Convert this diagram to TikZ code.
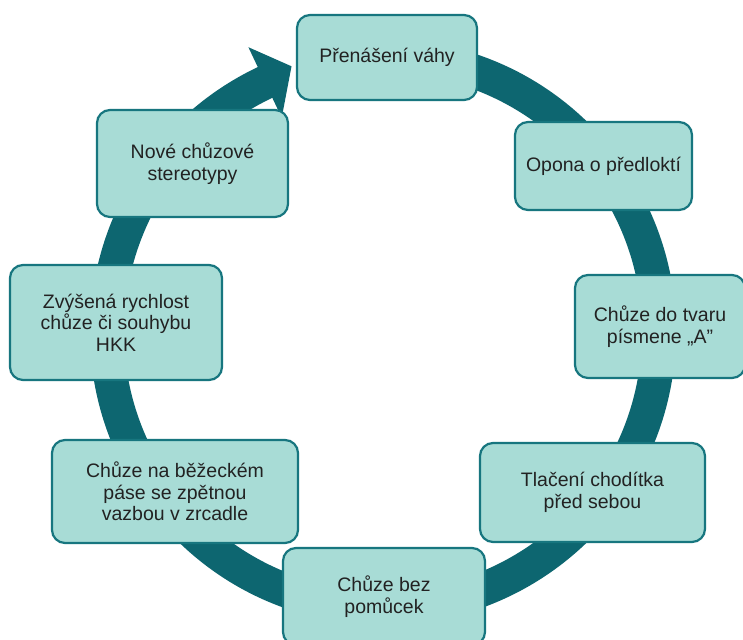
\documentclass[tikz,border=0pt]{standalone}
\usepackage{fontspec}
\setmainfont{Liberation Sans}
\definecolor{ringc}{HTML}{0D6670}
\definecolor{boxfill}{HTML}{A8DCD6}
\definecolor{boxline}{HTML}{17767F}
\definecolor{txt}{HTML}{222222}
\tikzset{
  cyclebox/.style={draw=boxline, line width=2.2pt, fill=boxfill, rounded corners=13pt,
    align=center, text=txt, font=\fontsize{19.5}{21.5}\selectfont, inner sep=4pt},
  ring/.style={draw=ringc, line width=34pt, line cap=butt}
}
\begin{document}
\begin{tikzpicture}[x=1pt,y=1pt]
\useasboundingbox (0,0) rectangle (743,639);
\fill[white] (0,0) rectangle (743,639);
\coordinate (c) at (383,307);
% ring arrow
\draw[ring] ([shift={(c)}]80:276) arc[start angle=80, end angle=-245, radius=276];
\fill[ringc] ([shift={(c)}]115.3:237) -- ([shift={(c)}]115.3:315) -- ([shift={(c)}]109:281) -- cycle;
% boxes
\node[cyclebox, minimum width=180pt, minimum height=85pt] (b1) at (387,581.5) {Přenášení váhy};
\node[cyclebox, minimum width=177pt, minimum height=88pt] (b2) at (603.5,473) {Opona o předloktí};
\node[cyclebox, minimum width=170pt, minimum height=103pt] (b3) at (660,312.5) {Chůze do tvaru\\písmene „A”};
\node[cyclebox, minimum width=225pt, minimum height=99pt] (b4) at (592.5,146.5) {Tlačení chodítka\\před sebou};
\node[cyclebox, minimum width=202pt, minimum height=97pt] (b5) at (384,42.5) {Chůze bez\\pomůcek};
\node[cyclebox, minimum width=246pt, minimum height=103pt] (b6) at (175,147.5) {Chůze na běžeckém\\páse se zpětnou\\vazbou v zrcadle};
\node[cyclebox, minimum width=212pt, minimum height=115pt] (b7) at (116,316.5) {Zvýšená rychlost\\chůze či souhybu\\HKK};
\node[cyclebox, minimum width=191pt, minimum height=107pt] (b8) at (192.5,475.5) {Nové chůzové\\stereotypy};
\end{tikzpicture}
\end{document}
